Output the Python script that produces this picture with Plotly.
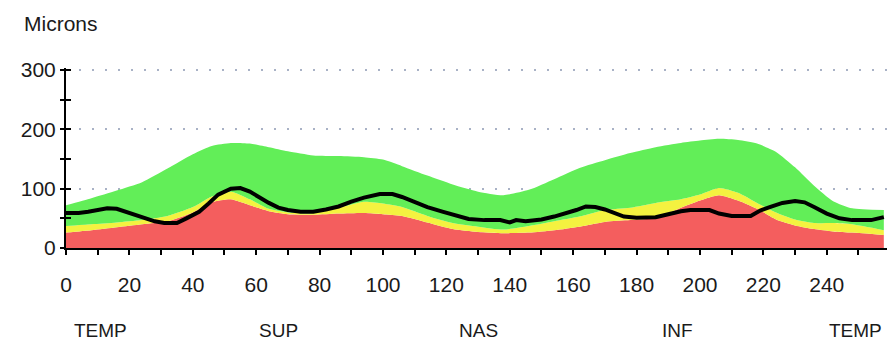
import plotly.graph_objects as go

# TSNIT position along the scan circle (0-258)
band_x = [0, 8, 16, 24, 32, 40, 46, 52, 58, 64, 70, 78, 86, 94, 100, 106, 114, 122,
          130, 138, 146, 154, 162, 170, 178, 186, 194, 200, 206, 212, 218, 224, 230,
          236, 242, 248, 258]

# Upper edge of the red band (< 1% of normals)
red_band = [26, 30, 35, 40, 45, 60, 77, 82, 72, 62, 57, 56, 58, 59, 57, 54, 43, 32,
            27, 25, 26, 30, 36, 44, 47, 51, 68, 80, 89, 80, 66, 48, 38,
            32, 28, 26, 22]

# Upper edge of the yellow band (< 5% of normals)
yellow_band = [37, 40, 43, 47, 54, 69, 87, 95, 82, 66, 60, 59, 68, 78, 75, 69, 54, 42,
               36, 31, 37, 45, 53, 64, 68, 76, 82, 90, 101, 93, 76, 60, 48,
               42, 42, 40, 30]

# Upper edge of the green band (95% of normals)
green_band = [72, 84, 97, 111, 134, 158, 172, 177, 176, 170, 163, 156, 155, 153, 149,
              138, 122, 107, 95, 89, 98, 116, 135, 148, 160, 170, 177, 181, 184, 182,
              176, 162, 136, 105, 79, 67, 64]

# Measured RNFL thickness
meas_x = [0, 4, 7, 10, 13, 16, 19, 22, 25, 28, 31, 35, 38, 42, 45, 48, 52, 55, 58, 61,
          64, 67, 70, 74, 78, 82, 86, 90, 94, 99, 103, 106, 110, 114, 119, 123, 127,
          132, 137, 140, 142, 145, 150, 154, 158, 161, 164, 167, 170, 173, 176, 180,
          186, 190, 194, 197, 203, 206, 210, 216, 219, 222, 226, 230, 233, 236, 240,
          244, 248, 254, 258]
meas_y = [59, 59, 61, 64, 67, 66, 61, 55, 51, 45, 42, 42, 50, 61, 75, 90, 100, 101, 95,
          85, 76, 68, 64, 61, 61, 65, 70, 78, 85, 91, 91, 86, 77, 69, 61, 55, 49,
          47, 47, 43, 47, 45, 48, 53, 59, 64, 70, 69, 65, 59, 53, 51,
          52, 57, 62, 64, 64, 58, 54, 54, 63, 69, 76, 79, 77, 69, 58,
          50, 47, 47, 52]

y_ticks = [0, 100, 200, 300]
x_ticks = [0, 20, 40, 60, 80, 100, 120, 140, 160, 180, 200, 220, 240]

region_names = ["TEMP", "SUP", "NAS", "INF", "TEMP"]
region_pos = [11, 67, 130, 193, 249]

RED = "#F45E5E"
YELLOW = "#F4F240"
GREEN = "#62EE58"
FONT = "Liberation Sans"
TEXT = "#1a1a1a"
Y_RANGE = [0, 303.4]

fig = go.Figure()
fig.add_trace(go.Scatter(x=band_x, y=red_band, mode="lines", fill="tozeroy",
                         fillcolor=RED, line=dict(width=0, shape="spline", smoothing=0.6),
                         hoverinfo="skip"))
fig.add_trace(go.Scatter(x=band_x, y=yellow_band, mode="lines", fill="tonexty",
                         fillcolor=YELLOW, line=dict(width=0, shape="spline", smoothing=0.6),
                         hoverinfo="skip"))
fig.add_trace(go.Scatter(x=band_x, y=green_band, mode="lines", fill="tonexty",
                         fillcolor=GREEN, line=dict(width=0, shape="spline", smoothing=0.6),
                         hoverinfo="skip"))
fig.add_trace(go.Scatter(x=meas_x, y=meas_y, mode="lines",
                         line=dict(color="black", width=4)))

for name, pos in zip(region_names, region_pos):
    fig.add_annotation(x=pos, y=-0.46, xref="x", yref="paper", text=name,
                       showarrow=False, font=dict(family=FONT, size=19, color=TEXT),
                       xanchor="center", yanchor="middle")

fig.add_annotation(x=-0.054, y=1.25, xref="paper", yref="paper", text="Microns",
                   showarrow=False, font=dict(family=FONT, size=21, color=TEXT),
                   xanchor="left", yanchor="middle")

fig.update_layout(
    width=893, height=344,
    margin=dict(l=66, r=6, t=68, b=96),
    plot_bgcolor="white", paper_bgcolor="white",
    showlegend=False,
    xaxis=dict(range=[0, 259], tickvals=x_ticks, ticks="outside", ticklen=5,
               tickwidth=2, tickcolor="black", showline=True, linecolor="black",
               linewidth=2, showgrid=False, zeroline=False,
               tickfont=dict(family=FONT, size=21, color=TEXT),
               ticklabelstandoff=12,
               minor=dict(dtick=10, tick0=0, ticks="outside", ticklen=5,
                          tickwidth=2, tickcolor="black")),
    yaxis=dict(range=Y_RANGE, tickvals=y_ticks, ticks="outside", ticklen=4,
               tickwidth=2, tickcolor="black", showline=True, linecolor="black",
               linewidth=2, showgrid=True, gridcolor="#A9B2C6", gridwidth=2,
               griddash="2px,11px", zeroline=False, layer="above traces",
               tickfont=dict(family=FONT, size=21, color=TEXT),
               minor=dict(dtick=50, tick0=0, ticks="outside", ticklen=4,
                          tickwidth=2, tickcolor="black")),
    yaxis2=dict(range=Y_RANGE, overlaying="y", side="left", anchor="x",
                tickvals=y_ticks, ticks="inside", ticklen=5, tickwidth=2,
                tickcolor="black", showticklabels=False, showgrid=False,
                zeroline=False, showline=False,
                minor=dict(dtick=50, tick0=0, ticks="inside", ticklen=5,
                           tickwidth=2, tickcolor="black")),
)
fig.add_trace(go.Scatter(x=[None], y=[None], yaxis="y2", showlegend=False))

fig.write_html("out.html")
